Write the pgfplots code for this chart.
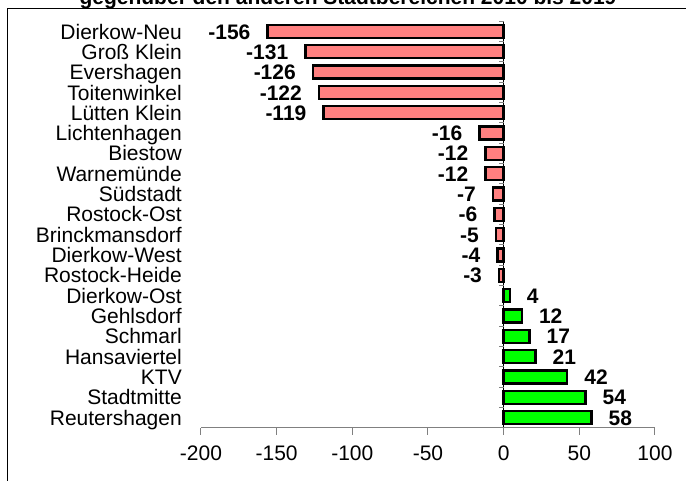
\documentclass[border=0pt]{standalone}
\usepackage{pgfplots}
\pgfplotsset{compat=1.18}
\usepackage{fontspec}
\setmainfont{Liberation Sans}
\definecolor{barred}{HTML}{FF8080}
\definecolor{bargreen}{HTML}{00FF00}
\begin{document}
\begin{tikzpicture}[font=\fontsize{21}{24}\selectfont]
\useasboundingbox (0,0) rectangle (686pt,-480pt);
\clip (0,0) rectangle (686pt,-480pt);
\draw[line width=1pt] (7pt,-8pt) rectangle (720pt,-520pt);
\node[anchor=base, font=\fontsize{21}{24}\selectfont\bfseries] at (348pt,-4pt) {gegenüber den anderen Stadtbereichen 2010 bis 2019};
\begin{axis}[
  at={(201pt,-427.7pt)}, anchor=south west,
  scale only axis, width=454pt, height=406.4pt,
  xmin=-200, xmax=100, ymin=-0.5, ymax=19.5, y dir=reverse,
  axis x line*=bottom, axis y line*=left,
  y axis line style={draw=none},
  x axis line style={gray, line width=1pt, -},
  xtick={-200,-150,...,100},
  xtick style={gray, line width=1pt},
  tick align=outside, major tick length=7pt,
  tick label style={font=\fontsize{21}{24}\selectfont},
  xticklabel style={anchor=base, inner sep=0pt, yshift=-26pt},
  ytick={0,...,19},
  ytick style={draw=none},
  yticklabels={Dierkow-Neu,Groß Klein,Evershagen,Toitenwinkel,Lütten Klein,Lichtenhagen,Biestow,Warnemünde,Südstadt,Rostock-Ost,Brinckmansdorf,Dierkow-West,Rostock-Heide,Dierkow-Ost,Gehlsdorf,Schmarl,Hansaviertel,KTV,Stadtmitte,Reutershagen},
  yticklabel style={anchor=base east, inner sep=0pt, yshift=-7.6pt, xshift=-12pt},
  /pgf/number format/assume math mode=true,
  every axis plot/.append style={line width=2.4pt},
  clip=false,
]
\draw[black, line width=1pt] (axis cs:0,-0.5) -- (axis cs:0,19.5);
\pgfplotsinvokeforeach{-0.5,0.5,...,19.5}{
  \draw[gray, line width=1pt] (axis cs:0,#1) -- ([xshift=-5pt]axis cs:0,#1);
}
\addplot[xbar, bar shift=0pt, bar width=13pt, fill=barred, draw=black,
  nodes near coords, nodes near coords style={anchor=base east, inner sep=0pt, font=\fontsize{21}{24}\selectfont\bfseries, xshift=-16pt, yshift=-7.6pt}]
  coordinates {(-156,0) (-131,1) (-126,2) (-122,3) (-119,4) (-16,5) (-12,6) (-12,7) (-7,8) (-6,9) (-5,10) (-4,11) (-3,12)};
\addplot[xbar, bar shift=0pt, bar width=13pt, fill=bargreen, draw=black,
  nodes near coords, nodes near coords style={anchor=base west, inner sep=0pt, font=\fontsize{21}{24}\selectfont\bfseries, xshift=16pt, yshift=-7.6pt}]
  coordinates {(4,13) (12,14) (17,15) (21,16) (42,17) (54,18) (58,19)};
\end{axis}
\end{tikzpicture}
\end{document}
